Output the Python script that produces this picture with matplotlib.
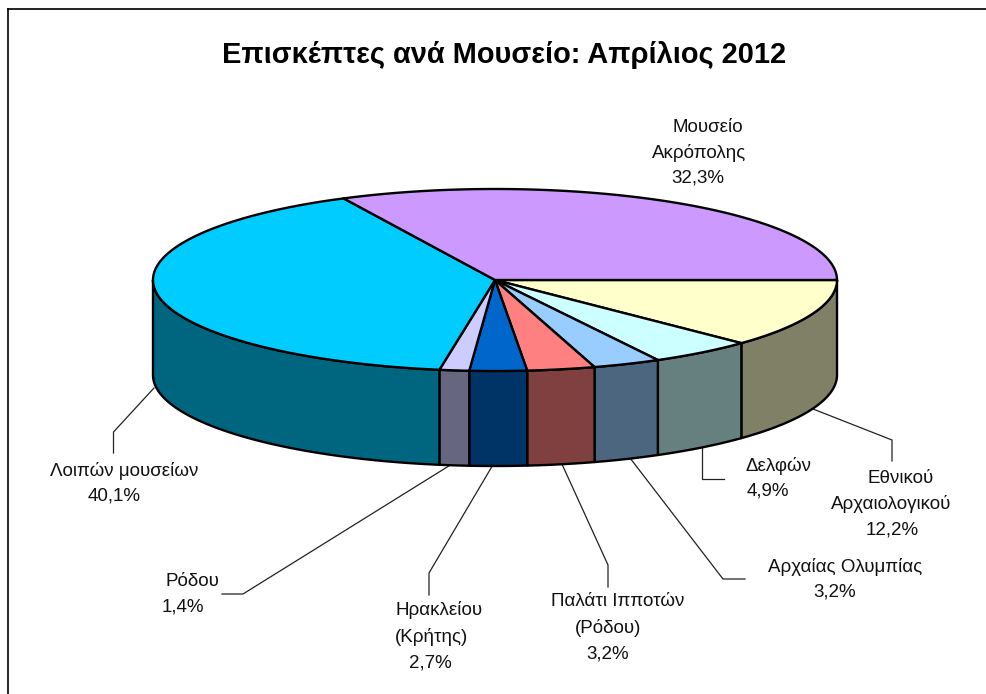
import numpy as np
import matplotlib
matplotlib.use('Agg')
import matplotlib.pyplot as plt

plt.rcParams['font.family'] = ['Liberation Sans', 'DejaVu Sans']

# clockwise from 3 o'clock
names = ['Εθνικού Αρχαιολογικού', 'Δελφών', 'Αρχαίας Ολυμπίας', 'Παλάτι Ιπποτών (Ρόδου)',
         'Ηρακλείου (Κρήτης)', 'Ρόδου', 'Λοιπών μουσείων', 'Μουσείο Ακρόπολης']
values = [12.2, 4.9, 3.2, 3.2, 2.7, 1.4, 40.1, 32.3]
top_colors = ['#FFFFCC', '#CCFFFF', '#99CCFF', '#FF8080', '#0066CC', '#CCCCFF', '#00CCFF', '#CC99FF']
side_colors = ['#808066', '#668080', '#4D6680', '#804040', '#003366', '#666680', '#006680', '#664D80']

label_lines = [
    [('Εθνικού', 901, 478), ('Αρχαιολογικού', 891, 504), ('12,2%', 892, 530)],
    [('Δελφών', 778, 466), ('4,9%', 768, 491)],
    [('Αρχαίας Ολυμπίας', 845, 567), ('3,2%', 835, 592)],
    [('Παλάτι Ιπποτών', 618, 602), ('(Ρόδου)', 608, 628), ('3,2%', 608, 654)],
    [('Ηρακλείου', 439, 610), ('(Κρήτης)', 431, 637), ('2,7%', 430, 663)],
    [('Ρόδου', 192, 581), ('1,4%', 183, 607)],
    [('Λοιπών μουσείων', 124, 471), ('40,1%', 114, 496)],
    [('Μουσείο', 708, 127), ('Ακρόπολης', 699, 153), ('32,3%', 698, 178)],
]

leaders = [
    [(813, 409), (892, 440), (892, 461)],
    [(702, 446), (702, 479), (724, 479)],
    [(630, 458), (723, 579), (745, 579)],
    [(561, 462), (608, 565), (608, 587)],
    [(494, 463), (429, 573), (429, 595)],
    [(452, 464), (243, 594), (222, 594)],
    [(154, 388), (113.5, 432), (113.5, 453)],
]

cx, cy = 495, 280
rx, ry = 342, 91
depth = 95

fig = plt.figure(figsize=(9.86, 6.94), dpi=100)
ax = fig.add_axes([0, 0, 1, 1])
ax.set_xlim(0, 986)
ax.set_ylim(694, 0)
ax.axis('off')

# chart frame, only top and left show
ax.plot([8, 8], [694, 8.5], color='black', lw=1.2)
ax.plot([8, 986], [8.5, 8.5], color='black', lw=1.2)

edges = np.cumsum([0] + values) / sum(values) * 2 * np.pi


def arc(a0, a1):
    t = np.linspace(a0, a1, 200)
    return cx + rx * np.cos(t), cy + ry * np.sin(t)


# sides first, only the front half is visible
for i in range(len(values)):
    a0, a1 = edges[i], min(edges[i + 1], np.pi)
    if a0 >= np.pi:
        continue
    x, y = arc(a0, a1)
    ax.fill(np.r_[x, x[::-1]], np.r_[y, y[::-1] + depth],
            facecolor=side_colors[i], edgecolor='black', lw=1.7, joinstyle='round', zorder=2)

# top face
for i in range(len(values)):
    x, y = arc(edges[i], edges[i + 1])
    ax.fill(np.r_[cx, x], np.r_[cy, y], facecolor=top_colors[i],
            edgecolor='black', lw=1.7, joinstyle='round', zorder=3)

for pts in leaders:
    xs, ys = zip(*pts)
    ax.plot(xs, ys, color='#222222', lw=0.9, zorder=1)

for lines in label_lines:
    for txt, x, y in lines:
        ax.text(x, y, txt, ha='center', va='center', fontsize=13.5, color='#111111')

ax.text(504, 55, 'Επισκέπτες ανά Μουσείο: Απρίλιος 2012', ha='center', va='center',
        fontsize=20.9, fontweight='bold', color='black')

fig.savefig('out.png', dpi=100)
